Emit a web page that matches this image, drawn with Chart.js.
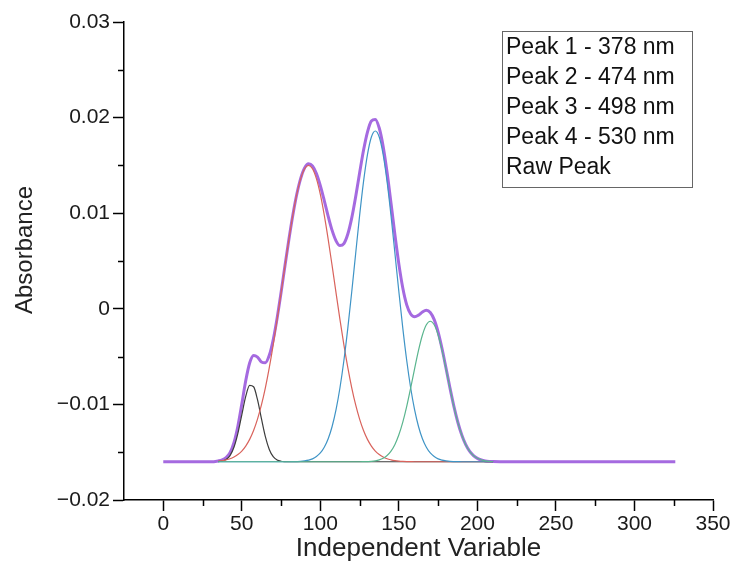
<!DOCTYPE html>
<html>
<head>
<meta charset="utf-8">
<script src="https://cdn.jsdelivr.net/npm/chart.js@4.4.1/dist/chart.umd.min.js"></script>
<style>
  html, body { margin: 0; padding: 0; background: #fff; }
  #wrap { width: 740px; height: 579px; }
</style>
</head>
<body>
<div id="wrap"><canvas id="chart" width="740" height="579"></canvas></div>
<script>
const FONT = "'Liberation Sans', Arial, sans-serif";

// x positions shared by the fitted components
const xs = [
  35, 37.5, 40, 42.5, 45, 47.5, 50, 52.5, 55, 57.5,
  60, 62.5, 65, 67.5, 70, 72.5, 75, 77.5, 80, 82.5,
  85, 87.5, 90, 92.5, 95, 97.5, 100, 102.5, 105, 107.5,
  110, 112.5, 115, 117.5, 120, 122.5, 125, 127.5, 130, 132.5,
  135, 137.5, 140, 142.5, 145, 147.5, 150, 152.5, 155, 157.5,
  160, 162.5, 165, 167.5, 170, 172.5, 175, 177.5, 180, 182.5,
  185, 187.5, 190, 192.5, 195, 197.5, 200, 202.5, 205, 207.5,
  210
];

const peak1 = [
  -0.01598, -0.01593, -0.01577, -0.01536, -0.01449, -0.01303, -0.01109, -0.00917, -0.00801, -0.00815,
  -0.00951, -0.0115, -0.01337, -0.01471, -0.01547, -0.01582, -0.01595, -0.01599, -0.016, -0.016,
  -0.016, -0.016, -0.016, -0.016, -0.016, -0.016, -0.016, -0.016, -0.016, -0.016,
  -0.016, -0.016, -0.016, -0.016, -0.016, -0.016, -0.016, -0.016, -0.016, -0.016,
  -0.016, -0.016, -0.016, -0.016, -0.016, -0.016, -0.016, -0.016, -0.016, -0.016,
  -0.016, -0.016, -0.016, -0.016, -0.016, -0.016, -0.016, -0.016, -0.016, -0.016,
  -0.016, -0.016, -0.016, -0.016, -0.016, -0.016, -0.016, -0.016, -0.016, -0.016,
  -0.016
];

const peak2 = [
  -0.01593, -0.01588, -0.0158, -0.01569, -0.01551, -0.01525, -0.01488, -0.01436, -0.01366, -0.01273,
  -0.01154, -0.01006, -0.00827, -0.00616, -0.00377, -0.00113, 0.00166, 0.00451, 0.00727, 0.0098,
  0.01196, 0.01361, 0.01465, 0.015, 0.01465, 0.01361, 0.01196, 0.0098, 0.00727, 0.00451,
  0.00166, -0.00113, -0.00377, -0.00616, -0.00827, -0.01006, -0.01154, -0.01273, -0.01366, -0.01436,
  -0.01488, -0.01525, -0.01551, -0.01569, -0.0158, -0.01588, -0.01593, -0.01596, -0.01598, -0.01599,
  -0.016, -0.016, -0.016, -0.016, -0.016, -0.016, -0.016, -0.016, -0.016, -0.016,
  -0.016, -0.016, -0.016, -0.016, -0.016, -0.016, -0.016, -0.016, -0.016, -0.016,
  -0.016
];

const peak3 = [
  -0.016, -0.016, -0.016, -0.016, -0.016, -0.016, -0.016, -0.016, -0.016, -0.016,
  -0.016, -0.016, -0.016, -0.016, -0.016, -0.016, -0.016, -0.016, -0.016, -0.01599,
  -0.01598, -0.01596, -0.01591, -0.01583, -0.0157, -0.01546, -0.01508, -0.01448, -0.01359, -0.01231,
  -0.01055, -0.00826, -0.00541, -0.00202, 0.00178, 0.00579, 0.00974, 0.0133, 0.01613, 0.01797,
  0.0186, 0.01797, 0.01613, 0.0133, 0.00974, 0.00579, 0.00178, -0.00202, -0.00541, -0.00826,
  -0.01055, -0.01231, -0.01359, -0.01448, -0.01508, -0.01546, -0.0157, -0.01583, -0.01591, -0.01596,
  -0.01598, -0.01599, -0.016, -0.016, -0.016, -0.016, -0.016, -0.016, -0.016, -0.016,
  -0.016
];

const peak4 = [
  -0.016, -0.016, -0.016, -0.016, -0.016, -0.016, -0.016, -0.016, -0.016, -0.016,
  -0.016, -0.016, -0.016, -0.016, -0.016, -0.016, -0.016, -0.016, -0.016, -0.016,
  -0.016, -0.016, -0.016, -0.016, -0.016, -0.016, -0.016, -0.016, -0.016, -0.016,
  -0.016, -0.016, -0.016, -0.016, -0.016, -0.016, -0.016, -0.01599, -0.01598, -0.01596,
  -0.01591, -0.01581, -0.01564, -0.01535, -0.01489, -0.01419, -0.01318, -0.01185, -0.0102, -0.00829,
  -0.00628, -0.00435, -0.00274, -0.00167, -0.0013, -0.00167, -0.00274, -0.00435, -0.00628, -0.00829,
  -0.0102, -0.01185, -0.01318, -0.01419, -0.01489, -0.01535, -0.01564, -0.01581, -0.01591, -0.01596,
  -0.01598
];

const rawPeak = [
  -0.01591, -0.01581, -0.01557, -0.01505, -0.014, -0.01228, -0.00997, -0.00753, -0.00567, -0.00488,
  -0.00505, -0.00556, -0.00564, -0.00487, -0.00324, -0.00095, 0.00171, 0.00452, 0.00727, 0.00981,
  0.01198, 0.01365, 0.01474, 0.01517, 0.01495, 0.01415, 0.01288, 0.01132, 0.00968, 0.0082,
  0.00711, 0.00661, 0.00682, 0.00782, 0.00951, 0.01173, 0.0142, 0.01658, 0.01849, 0.01965,
  0.01981, 0.01891, 0.01698, 0.01426, 0.01105, 0.00772, 0.00467, 0.00217, 0.00041, -0.00054,
  -0.00083, -0.00066, -0.00033, -0.00015, -0.00038, -0.00113, -0.00244, -0.00418, -0.00619, -0.00825,
  -0.01018, -0.01184, -0.01318, -0.01419, -0.01489, -0.01535, -0.01564, -0.01581, -0.01591, -0.01596,
  -0.01598
];

// flat raw baseline before and after the bands
const rawHeadX = [0, 30];
const rawHeadY = [-0.016, -0.016];
const rawTailX = [220, 326];
const rawTailY = [-0.016, -0.016];

const seriesLabels = ["Peak 1 - 378 nm", "Peak 2 - 474 nm", "Peak 3 - 498 nm", "Peak 4 - 530 nm", "Raw Peak"];

const xTicks = [0, 50, 100, 150, 200, 250, 300, 350];
const xMinorTicks = [25, 75, 125, 175, 225, 275, 325];
const yTicks = [-0.02, -0.01, 0, 0.01, 0.02, 0.03];
const yTickLabels = ["\u22120.02", "\u22120.01", "0", "0.01", "0.02", "0.03"];
const yMinorTicks = [-0.015, -0.005, 0.005, 0.015, 0.025];

function toPoints(xArr, yArr) {
  return xArr.map((x, i) => ({ x, y: yArr[i] }));
}

const extras = {
  id: "extras",
  afterDraw(chart) {
    const { ctx, chartArea, scales } = chart;
    ctx.save();
    ctx.strokeStyle = "#000";
    ctx.lineWidth = 1.5;
    ctx.beginPath();
    yMinorTicks.forEach((v) => {
      const y = Math.round(scales.y.getPixelForValue(v)) + 0.5;
      ctx.moveTo(chartArea.left - 6, y);
      ctx.lineTo(chartArea.left, y);
    });
    xMinorTicks.forEach((v) => {
      const x = Math.round(scales.x.getPixelForValue(v)) + 0.5;
      ctx.moveTo(x, chartArea.bottom);
      ctx.lineTo(x, chartArea.bottom + 6);
    });
    ctx.stroke();

    // y title, placed a little above the axis middle as in the reference
    ctx.save();
    ctx.translate(25, 250);
    ctx.rotate(-Math.PI / 2);
    ctx.fillStyle = "#222";
    ctx.font = "24px " + FONT;
    ctx.textAlign = "center";
    ctx.textBaseline = "middle";
    ctx.fillText("Absorbance", 0, 0);
    ctx.restore();

    // legend box (text only, as in the reference)
    const bx = 502.5, by = 31.5, bw = 190, bh = 156;
    ctx.fillStyle = "#fff";
    ctx.fillRect(bx, by, bw, bh);
    ctx.strokeStyle = "#666";
    ctx.lineWidth = 1;
    ctx.strokeRect(bx, by, bw, bh);
    ctx.fillStyle = "#111";
    ctx.font = "23px " + FONT;
    ctx.textBaseline = "middle";
    ctx.textAlign = "left";
    seriesLabels.forEach((label, i) => {
      ctx.fillText(label, 506, 48 + i * 30);
    });
    ctx.restore();
  }
};

const thin = { pointRadius: 0, borderWidth: 1.2, fill: false, cubicInterpolationMode: "monotone" };

new Chart(document.getElementById("chart"), {
  type: "line",
  data: {
    datasets: [
      { label: seriesLabels[0], data: toPoints(xs, peak1), borderColor: "#3c3c3c", order: 4, ...thin },
      { label: seriesLabels[1], data: toPoints(xs, peak2), borderColor: "#d9635c", order: 3, ...thin },
      { label: seriesLabels[2], data: toPoints(xs, peak3), borderColor: "#3f94c6", order: 2, ...thin },
      { label: seriesLabels[3], data: toPoints(xs, peak4), borderColor: "#5ab58e", order: 1, ...thin },
      {
        label: seriesLabels[4],
        data: toPoints(rawHeadX.concat(xs, rawTailX), rawHeadY.concat(rawPeak, rawTailY)),
        borderColor: "#a56ae0",
        borderWidth: 3,
        pointRadius: 0,
        fill: false,
        cubicInterpolationMode: "monotone",
        order: 5
      }
    ]
  },
  options: {
    responsive: false,
    animation: false,
    events: [],
    layout: { padding: { top: 22, right: 27, left: 0, bottom: 0 } },
    plugins: { legend: { display: false }, tooltip: { enabled: false } },
    scales: {
      x: {
        type: "linear",
        min: -25,
        max: 350,
        afterBuildTicks: (axis) => { axis.ticks = xTicks.map((v) => ({ value: v })); },
        afterFit: (axis) => { axis.height = 79; },
        grid: { drawOnChartArea: false, drawTicks: true, tickLength: 11, tickColor: "#000", tickWidth: 1.5 },
        border: { display: true, color: "#000", width: 1.5 },
        ticks: { color: "#1a1a1a", font: { family: FONT, size: 21 }, padding: 1, maxRotation: 0, autoSkip: false },
        title: {
          display: true,
          text: "Independent Variable",
          color: "#222",
          font: { family: FONT, size: 26 },
          padding: { top: 0, bottom: 15 }
        }
      },
      y: {
        type: "linear",
        min: -0.02,
        max: 0.03,
        afterBuildTicks: (axis) => { axis.ticks = yTicks.map((v) => ({ value: v })); },
        afterFit: (axis) => { axis.width = 124; },
        grid: { drawOnChartArea: false, drawTicks: true, tickLength: 11, tickColor: "#000", tickWidth: 1.5 },
        border: { display: true, color: "#000", width: 1.5 },
        ticks: {
          color: "#1a1a1a",
          font: { family: FONT, size: 21 },
          padding: 3,
          autoSkip: false,
          callback: (value, index) => yTickLabels[index]
        },
        title: { display: false }
      }
    }
  },
  plugins: [extras]
});
</script>
</body>
</html>
